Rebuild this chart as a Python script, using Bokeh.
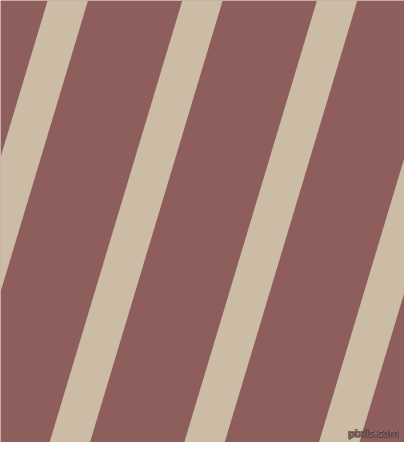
from bokeh.plotting import figure
from bokeh.models import Range1d
from bokeh.core.properties import value
from bokeh.embed import file_html
from bokeh.resources import INLINE

# pattern size in source pixels
W, H = 420, 458

# stripe left edges where they cross the top and the bottom of the picture
stripe_top = [-91, 49, 189, 329, 469]
stripe_bottom = [-229, -89, 51, 191, 331]
stripe_width = 42

background = "#8e5e5d"
stripe_color = "#ccbba5"

xs = [[t, t + stripe_width, b + stripe_width, b] for t, b in zip(stripe_top, stripe_bottom)]
ys = [[0, 0, H, H] for _ in stripe_top]

p = figure(width=404, height=442, output_backend="svg", toolbar_location=None,
           x_range=Range1d(0, W), y_range=Range1d(H, 0), min_border=0)
p.axis.visible = False
p.grid.visible = False
p.outline_line_color = None
p.background_fill_color = background
p.border_fill_color = background

p.patches(xs, ys, fill_color=stripe_color, line_color=None)

# watermark: dark outline then a lighter fill
for dx, dy in [(-0.8, 0), (0.8, 0), (0, -0.8), (0, 0.8)]:
    p.text(x=[414 + dx], y=[449 + dy], text=["pixlis.com"], text_align="right",
           text_baseline="alphabetic", text_font=value("DejaVu Sans"),
           text_font_size="10px", text_color="#4a3232")
p.text(x=[414], y=[449], text=["pixlis.com"], text_align="right",
       text_baseline="alphabetic", text_font=value("DejaVu Sans"),
       text_font_size="10px", text_color="#9a7a78")

open("out.html", "w").write(file_html(p, INLINE))
